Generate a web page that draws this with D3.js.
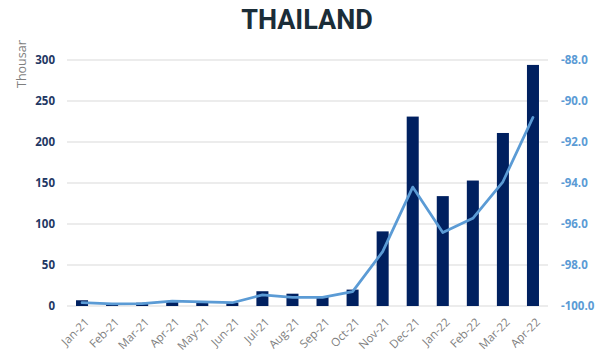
<!DOCTYPE html>
<html>
<head>
<meta charset="utf-8">
<script src="https://cdn.jsdelivr.net/npm/d3@7/dist/d3.min.js"></script>
<style>
  html, body { margin: 0; padding: 0; background: #ffffff; }
  svg { display: block; }
</style>
</head>
<body>
<div id="chart"></div>
<script>
// Monthly categories
const months = ["Jan-21","Feb-21","Mar-21","Apr-21","May-21","Jun-21","Jul-21","Aug-21","Sep-21","Oct-21","Nov-21","Dec-21","Jan-22","Feb-22","Mar-22","Apr-22"];
// Bar series (thousands, left axis)
const barValues = [7, 3, 4, 5, 4, 4, 18, 15, 12, 20, 91, 231, 134, 153, 211, 294];
// Line series (right axis)
const lineValues = [-99.84, -99.9, -99.88, -99.76, -99.8, -99.84, -99.46, -99.58, -99.58, -99.3, -97.35, -94.2, -96.42, -95.72, -93.94, -90.8];
// Axis ticks
const leftTicks = [0, 50, 100, 150, 200, 250, 300];
const rightTicks = [-100, -98, -96, -94, -92, -90, -88];

const W = 595, H = 353;
const plot = { left: 67, right: 548, top: 60, bottom: 306 };

const svg = d3.select("#chart").append("svg")
  .attr("width", W).attr("height", H)
  .style("font-family", "'Open Sans', 'Noto Sans', sans-serif");

const x = d3.scaleBand().domain(months).range([plot.left, plot.right]).paddingInner(0.6).paddingOuter(0.3);
const yL = d3.scaleLinear().domain([0, 300]).range([plot.bottom, plot.top]);
const yR = d3.scaleLinear().domain([-100, -88]).range([plot.bottom, plot.top]);

// Title
svg.append("text")
  .attr("x", 307).attr("y", 29)
  .attr("text-anchor", "middle")
  .style("font-family", "Roboto, 'Open Sans', sans-serif")
  .style("font-weight", "700")
  .style("font-size", "27px")
  .attr("fill", "#1b2d38")
  .text("THAILAND");

// Gridlines
svg.append("g").selectAll("line").data(leftTicks).join("line")
  .attr("x1", plot.left).attr("x2", plot.right)
  .attr("y1", d => yL(d)).attr("y2", d => yL(d))
  .attr("stroke", "#d9d9d9").attr("stroke-width", 1);

// Left axis
const leftAxis = svg.append("g")
  .attr("transform", `translate(${plot.left - 12},0)`)
  .call(d3.axisLeft(yL).tickValues(leftTicks).tickSize(0).tickPadding(0));
leftAxis.select(".domain").remove();
leftAxis.selectAll("text")
  .attr("fill", "#1f3864")
  .style("font-size", "11.5px")
  .style("font-weight", "700")
  .style("font-family", "'Open Sans', sans-serif");

// Right axis (hyphen-minus formatting)
const rightAxis = svg.append("g")
  .attr("transform", `translate(${plot.right + 13},0)`)
  .call(d3.axisRight(yR).tickValues(rightTicks).tickSize(0).tickPadding(0).tickFormat(d => d.toFixed(1)));
rightAxis.select(".domain").remove();
rightAxis.selectAll("text")
  .attr("fill", "#5b9bd5")
  .style("font-size", "11.5px")
  .style("font-weight", "700")
  .style("font-family", "'Open Sans', sans-serif");

// Left axis title, clipped by its frame
svg.append("clipPath").attr("id", "ytitle-clip")
  .append("rect").attr("x", 0).attr("y", 40).attr("width", 40).attr("height", 60);
svg.append("g")
  .attr("clip-path", "url(#ytitle-clip)")
  .append("text")
  .attr("transform", "translate(26,88) rotate(-90)")
  .attr("text-anchor", "start")
  .attr("fill", "#7f7f7f")
  .style("font-size", "12.5px")
  .text("Thousands");

// Bars
svg.append("g").selectAll("rect").data(months).join("rect")
  .attr("x", d => x(d))
  .attr("width", x.bandwidth())
  .attr("y", (d, i) => yL(barValues[i]))
  .attr("height", (d, i) => yL(0) - yL(barValues[i]))
  .attr("fill", "#002060");

// Line
const line = d3.line()
  .x((d, i) => x(months[i]) + x.bandwidth() / 2)
  .y(d => yR(d));
svg.append("path")
  .datum(lineValues)
  .attr("d", line)
  .attr("fill", "none")
  .attr("stroke", "#5b9bd5")
  .attr("stroke-width", 2.75)
  .attr("stroke-linejoin", "round")
  .attr("stroke-linecap", "round");

// X axis labels
svg.append("g").selectAll("text").data(months).join("text")
  .attr("transform", d => `translate(${x(d) + x.bandwidth() / 2 + 5},${plot.bottom + 14}) rotate(-45)`)
  .attr("text-anchor", "end")
  .attr("dy", "0.35em")
  .attr("fill", "#7f7f7f")
  .style("font-size", "11.5px")
  .text(d => d);
</script>
</body>
</html>
